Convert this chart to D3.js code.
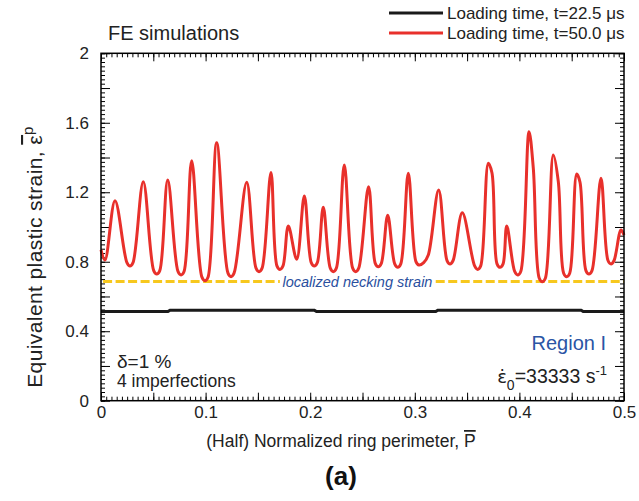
<!DOCTYPE html>
<html>
<head>
<meta charset="utf-8">
<script src="https://cdnjs.cloudflare.com/ajax/libs/d3/7.8.5/d3.min.js"></script>
<style>
  body { margin: 0; background: #fff; }
  svg { display: block; font-family: "Liberation Sans", Arial, sans-serif; }
</style>
</head>
<body>
<svg id="chart" width="639" height="501"></svg>
<script>
// red curve, t = 50.0 us
const perimeter50 = [0, 0.0038, 0.0134, 0.0248, 0.0277, 0.0306, 0.0404, 0.0504, 0.0533, 0.0562,
    0.0638, 0.0736, 0.0765, 0.0794, 0.0867, 0.0965, 0.0994, 0.1023, 0.1106, 0.1214,
    0.1243, 0.1272, 0.1393, 0.1482, 0.1511, 0.1540, 0.1625, 0.1682, 0.1711, 0.1740,
    0.1791, 0.1871, 0.1944, 0.2010, 0.2039, 0.2068, 0.2125, 0.2192, 0.2221, 0.2250,
    0.2326, 0.2406, 0.2435, 0.2464, 0.2558, 0.2622, 0.2651, 0.2680, 0.2741, 0.2808,
    0.2837, 0.2866, 0.2938, 0.3011, 0.3040, 0.3085, 0.3129, 0.3228, 0.3308, 0.3337,
    0.3366, 0.3454, 0.3572, 0.3601, 0.3630, 0.3703, 0.3738, 0.3786, 0.3815, 0.3844,
    0.3879, 0.3955, 0.3984, 0.4013, 0.4092, 0.4133, 0.4190, 0.4219, 0.4248, 0.4324,
    0.4372, 0.4423, 0.4452, 0.4481, 0.4548, 0.4579, 0.4636, 0.4665, 0.4694, 0.4780,
    0.4847, 0.4876, 0.4905, 0.4971, 0.5];
const strain50 = [0.868, 0.810, 1.151, 0.795, 0.775, 0.795, 1.261, 0.749, 0.729, 0.749,
    1.271, 0.744, 0.724, 0.744, 1.382, 0.711, 0.691, 0.711, 1.485, 0.734,
    0.714, 0.734, 1.257, 0.763, 0.743, 0.763, 1.314, 0.776, 0.756, 0.776,
    1.006, 0.814, 1.178, 0.795, 0.775, 0.795, 1.113, 0.763, 0.743, 0.763,
    1.357, 0.763, 0.743, 0.763, 1.232, 0.791, 0.771, 0.791, 1.067, 0.788,
    0.768, 0.788, 1.309, 0.801, 0.781, 0.795, 0.839, 1.213, 0.807, 0.787,
    0.807, 1.082, 0.776, 0.756, 0.776, 1.367, 1.311, 0.788, 0.768, 0.788,
    1.006, 0.744, 0.724, 0.744, 1.549, 1.338, 0.705, 0.685, 0.705, 1.415,
    1.261, 0.734, 0.714, 0.734, 1.305, 1.259, 0.749, 0.729, 0.749, 1.280,
    0.807, 0.787, 0.807, 0.983, 0.954];

// black curve, t = 22.5 us
const perimeter22 = [0, 0.064, 0.066, 0.204, 0.206, 0.320, 0.322, 0.459, 0.461, 0.5];
const strain22 = [0.513, 0.513, 0.521, 0.521, 0.513, 0.513, 0.521, 0.521, 0.513, 0.513];

const neckingStrain = 0.686;

const xTicks = [0, 0.05, 0.1, 0.15, 0.2, 0.25, 0.3, 0.35, 0.4, 0.45, 0.5];
const xTickLabels = ['0', '', '0.1', '', '0.2', '', '0.3', '', '0.4', '', '0.5'];
const yTicks = [0, 0.2, 0.4, 0.6, 0.8, 1.0, 1.2, 1.4, 1.6, 1.8, 2.0];
const yTickLabels = ['0', '', '0.4', '', '0.8', '', '1.2', '', '1.6', '', '2'];

const legendLabels = ['Loading time, t=22.5 \u03bcs', 'Loading time, t=50.0 \u03bcs'];
const seriesColors = ['#1a1a1a', '#e8302b'];

const svg = d3.select('#chart');
const mLeft = 101, mRight = 624, mTop = 53.3, mBottom = 400.7;

const x = d3.scaleLinear().domain([0, 0.5]).range([mLeft, mRight]);
const y = d3.scaleLinear().domain([0, 2]).range([mBottom, mTop]);

// minor + major ticks on all four sides, pointing inward
function ticks(axisFn, scale, pos, values, size) {
    let ax = axisFn(scale).tickValues(values).tickSize(size).tickFormat('');
    let g = svg.append('g').attr('transform', pos).call(ax);
    g.select('.domain').remove();
    g.selectAll('line').attr('stroke', '#000').attr('stroke-width', 1);
    return g;
}

const xMinor = d3.range(0, 101).map(i => i * 0.005);
const yMinor = d3.range(0, 81).map(i => i * 0.025);

ticks(d3.axisBottom, x, `translate(0,${mBottom})`, xMinor, -4);
ticks(d3.axisTop, x, `translate(0,${mTop})`, xMinor, -4);
ticks(d3.axisLeft, y, `translate(${mLeft},0)`, yMinor, -4);
ticks(d3.axisRight, y, `translate(${mRight},0)`, yMinor, -4);

ticks(d3.axisTop, x, `translate(0,${mTop})`, xTicks, -8);
ticks(d3.axisRight, y, `translate(${mRight},0)`, yTicks, -9);

let xg = svg.append('g').attr('transform', `translate(0,${mBottom})`)
    .call(d3.axisBottom(x).tickValues(xTicks).tickSize(-8).tickPadding(5)
        .tickFormat((d, i) => xTickLabels[i]));
xg.select('.domain').remove();
xg.selectAll('line').attr('stroke', '#000');
xg.selectAll('text').attr('font-size', 17).attr('fill', '#222')
    .attr('font-family', '"Liberation Sans", Arial, sans-serif');

let yg = svg.append('g').attr('transform', `translate(${mLeft},0)`)
    .call(d3.axisLeft(y).tickValues(yTicks).tickSize(-9).tickPadding(12)
        .tickFormat((d, i) => yTickLabels[i]));
yg.select('.domain').remove();
yg.selectAll('line').attr('stroke', '#000');
yg.selectAll('text').attr('font-size', 17).attr('fill', '#222')
    .attr('font-family', '"Liberation Sans", Arial, sans-serif');

// necking strain dashed line with label gap
const neckPieces = [[0.002, 0.171], [0.320, 0.5]];
neckPieces.forEach(p => {
    svg.append('line')
        .attr('x1', x(p[0])).attr('x2', x(p[1]))
        .attr('y1', y(neckingStrain)).attr('y2', y(neckingStrain))
        .attr('stroke', '#f7c81e').attr('stroke-width', 3)
        .attr('stroke-dasharray', '9,3.5');
});

// curves
const line = d3.line().x(d => x(d[0])).y(d => y(d[1]));
svg.append('path')
    .datum(perimeter22.map((p, i) => [p, strain22[i]]))
    .attr('fill', 'none').attr('stroke', seriesColors[0]).attr('stroke-width', 3)
    .attr('d', line);
svg.append('path')
    .datum(perimeter50.map((p, i) => [p, strain50[i]]))
    .attr('fill', 'none').attr('stroke', seriesColors[1]).attr('stroke-width', 3)
    .attr('stroke-linejoin', 'round')
    .attr('d', line.curve(d3.curveCatmullRom.alpha(0.5)));

svg.append('text')
    .attr('x', x(0.2452)).attr('y', y(neckingStrain) + 5)
    .attr('text-anchor', 'middle').attr('font-size', 14.5).attr('font-style', 'italic')
    .attr('fill', '#2a4f9e')
    .text('localized necking strain');

// frame
svg.append('rect')
    .attr('x', mLeft).attr('y', mTop).attr('width', mRight - mLeft).attr('height', mBottom - mTop)
    .attr('fill', 'none').attr('stroke', '#000').attr('stroke-width', 1.5);

// legend
legendLabels.forEach((lab, i) => {
    let ly = 13 + i * 20;
    svg.append('line').attr('x1', 389).attr('x2', 443).attr('y1', ly).attr('y2', ly)
        .attr('stroke', seriesColors[i]).attr('stroke-width', 3);
    svg.append('text').attr('x', 447).attr('y', ly + 6).attr('font-size', 17).attr('fill', '#222')
        .text(lab);
});

svg.append('text').attr('x', 108).attr('y', 40).attr('font-size', 20).attr('fill', '#222')
    .text('FE simulations');

// annotations
svg.append('text').attr('x', 117).attr('y', 368).attr('font-size', 19).attr('fill', '#222')
    .text('\u03b4=1 %');
svg.append('text').attr('x', 117).attr('y', 387).attr('font-size', 17.5).attr('fill', '#222')
    .text('4 imperfections');
svg.append('text').attr('x', 606).attr('y', 350).attr('text-anchor', 'end')
    .attr('font-size', 20).attr('fill', '#2a55a5')
    .text('Region I');

let rate = svg.append('text').attr('x', 607).attr('y', 383).attr('text-anchor', 'end')
    .attr('font-size', 19.5).attr('fill', '#222');
rate.append('tspan').attr('font-family', '"DejaVu Sans", sans-serif').attr('font-size', 18)
    .text('\u03b5\u0307');
rate.append('tspan').attr('font-size', 14).attr('dy', 7).text('0');
rate.append('tspan').attr('dy', -7).text('=33333 s');
rate.append('tspan').attr('font-size', 13).attr('dy', -8).text('-1');

// axis titles
let xt = svg.append('text').attr('x', 341).attr('y', 447).attr('text-anchor', 'middle')
    .attr('font-size', 17.5).attr('fill', '#222');
xt.append('tspan').text('(Half) Normalized ring perimeter, ');
xt.append('tspan').style('text-decoration', 'overline').text('P');

let yt = svg.append('text').attr('transform', 'translate(42,257) rotate(-90)')
    .attr('text-anchor', 'middle').attr('font-size', 21).attr('fill', '#222')
    .attr('letter-spacing', 0.4);
yt.append('tspan').text('Equivalent plastic strain, ');
yt.append('tspan').style('text-decoration', 'overline').text('\u03b5');
yt.append('tspan').attr('font-size', 15).attr('dy', -9).text('p');

svg.append('text').attr('x', 341).attr('y', 485).attr('text-anchor', 'middle')
    .attr('font-size', 26).attr('font-weight', 'bold').attr('fill', '#111')
    .text('(a)');
</script>
</body>
</html>
